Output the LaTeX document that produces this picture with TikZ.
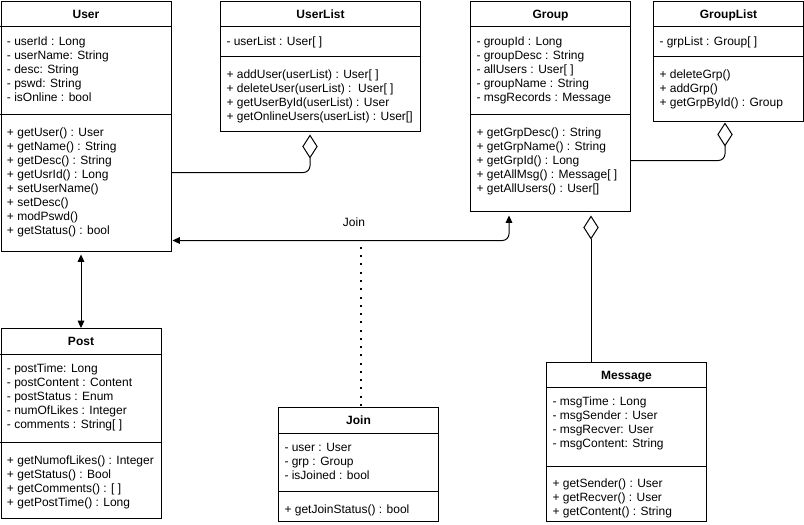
\documentclass[tikz,border=0pt]{standalone}
\usepackage{fontspec}
\setmainfont{Liberation Sans}
\usetikzlibrary{arrows.meta,calc}

\begin{document}
\begin{tikzpicture}[x=0.75pt, y=-0.75pt, line width=0.75pt,
    font=\fontsize{9}{10.5}\selectfont,
    classbox/.style={draw, anchor=north west, inner sep=0pt},
    classname/.style={anchor=base, font=\fontsize{9}{10.5}\selectfont\bfseries},
    members/.style={anchor=north west, align=left, inner sep=0pt},
    aggr/.style={-{Diamond[open, length=18pt, width=11.5pt]}},
    >={Triangle[length=5.5pt, width=5pt]}]
    \useasboundingbox (0,0) rectangle (804,525);

    % User
    \node[classbox, minimum width=127.5pt, minimum height=187.5pt] (user) at (0.5,0.5) {};
    \node[classname] (usertitle) at ($(user.north)+(0,17.5)$) {User};
    \draw ($(user.north west)+(0,26)$) -- ($(user.north east)+(0,26)$);
    \draw ($(user.north west)+(0,114)$) -- ($(user.north east)+(0,114)$);
    \node[members] (userattrs) at ($(user.north west)+(6,35.5)$) {- userId : Long\\- userName: String\\- desc: String\\- pswd: String\\- isOnline : bool};
    \node[members] (usermeths) at ($(user.north west)+(6,127.3)$) {+ getUser() : User\\+ getName() : String\\+ getDesc() : String\\+ getUsrId() : Long\\+ setUserName()\\+ setDesc()\\+ modPswd()\\+ getStatus() : bool};

    % UserList
    \node[classbox, minimum width=150pt, minimum height=97.5pt] (userlist) at (220,0.5) {};
    \node[classname] (userlisttitle) at ($(userlist.north)+(0,17.5)$) {UserList};
    \draw ($(userlist.north west)+(0,26)$) -- ($(userlist.north east)+(0,26)$);
    \draw ($(userlist.north west)+(0,56)$) -- ($(userlist.north east)+(0,56)$);
    \node[members] (userlistattrs) at ($(userlist.north west)+(6,35.5)$) {- userList : User[ ]};
    \node[members] (userlistmeths) at ($(userlist.north west)+(6,68.6)$) {+ addUser(userList) : User[ ]\\+ deleteUser(userList) :\ \ User[ ]\\+ getUserById(userList) : User\\+ getOnlineUsers(userList) : User[]};

    % Group
    \node[classbox, minimum width=120pt, minimum height=157.5pt] (group) at (470,0.5) {};
    \node[classname] (grouptitle) at ($(group.north)+(0,17.5)$) {Group};
    \draw ($(group.north west)+(0,26)$) -- ($(group.north east)+(0,26)$);
    \draw ($(group.north west)+(0,114)$) -- ($(group.north east)+(0,114)$);
    \node[members] (groupattrs) at ($(group.north west)+(6,35.5)$) {- groupId : Long\\- groupDesc : String\\- allUsers : User[ ]\\- groupName : String\\- msgRecords : Message};
    \node[members] (groupmeths) at ($(group.north west)+(6,127.3)$) {+ getGrpDesc() : String\\+ getGrpName() : String\\+ getGrpId() : Long\\+ getAllMsg() : Message[ ]\\+ getAllUsers() : User[]};

    % GroupList
    \node[classbox, minimum width=112.5pt, minimum height=90pt] (grouplist) at (653,0.5) {};
    \node[classname] (grouplisttitle) at ($(grouplist.north)+(0,17.5)$) {GroupList};
    \draw ($(grouplist.north west)+(0,26)$) -- ($(grouplist.north east)+(0,26)$);
    \draw ($(grouplist.north west)+(0,56)$) -- ($(grouplist.north east)+(0,56)$);
    \node[members] (grouplistattrs) at ($(grouplist.north west)+(6,35.5)$) {- grpList : Group[ ]};
    \node[members] (grouplistmeths) at ($(grouplist.north west)+(6,68.9)$) {+ deleteGrp()\\+ addGrp()\\+ getGrpById() : Group};

    % Post
    \node[classbox, minimum width=120pt, minimum height=142.5pt] (post) at (0.5,328) {};
    \node[classname] (posttitle) at ($(post.north)+(0,17.5)$) {Post};
    \draw ($(post.north west)+(0,26)$) -- ($(post.north east)+(0,26)$);
    \draw ($(post.north west)+(0,114)$) -- ($(post.north east)+(0,114)$);
    \node[members] (postattrs) at ($(post.north west)+(6,35.3)$) {- postTime: Long\\- postContent : Content\\- postStatus : Enum\\- numOfLikes : Integer\\- comments : String[ ]};
    \node[members] (postmeths) at ($(post.north west)+(6,127.6)$) {+ getNumofLikes() : Integer\\+ getStatus() : Bool\\+ getComments() : [ ]\\+ getPostTime() : Long};

    % Join
    \node[classbox, minimum width=120pt, minimum height=85.5pt] (join) at (278,407) {};
    \node[classname] (jointitle) at ($(join.north)+(0,17.5)$) {Join};
    \draw ($(join.north west)+(0,26)$) -- ($(join.north east)+(0,26)$);
    \draw ($(join.north west)+(0,84)$) -- ($(join.north east)+(0,84)$);
    \node[members] (joinattrs) at ($(join.north west)+(6,35.3)$) {- user : User\\- grp : Group\\- isJoined : bool};
    \node[members] (joinmeths) at ($(join.north west)+(6,96.9)$) {+ getJoinStatus() : bool};

    % Message
    \node[classbox, minimum width=120pt, minimum height=119.25pt] (message) at (546,362) {};
    \node[classname] (messagetitle) at ($(message.north)+(0,17.5)$) {Message};
    \draw ($(message.north west)+(0,25)$) -- ($(message.north east)+(0,25)$);
    \draw ($(message.north west)+(0,104)$) -- ($(message.north east)+(0,104)$);
    \node[members] (messageattrs) at ($(message.north west)+(6,34.3)$) {- msgTime : Long\\- msgSender : User\\- msgRecver: User\\- msgContent: String};
    \node[members] (messagemeths) at ($(message.north west)+(6,116.3)$) {+ getSender() : User\\+ getRecver() : User\\+ getContent() : String};

    % links
    \draw[aggr, rounded corners=5pt] ($(user.north east)+(0,172)$) -| ($(userlist.south west)+(90,3)$);
    \draw[aggr, rounded corners=5pt] ($(group.north east)+(0,160)$) -| ($(grouplist.south west)+(72,1)$);
    \draw[aggr] ($(message.north west)+(45,0)$) -- ($(group.south west)+(121,4)$);
    \draw[<->, rounded corners=5pt] ($(group.south west)+(39,4)$) |- ($(user.north east)+(1,240)$);
    \node (joinname) at (354,222) {Join};
    \coordinate (joinend) at ($(join.north)+(2,-163)$);
    \draw[line width=1.5pt, dash pattern=on 1.5pt off 4.7pt] ($(join.north)+(2,-1)$) -- (joinend);
    \draw[<->] ($(user.south -| post.north)+(0,3)$) -- (post.north);
\end{tikzpicture}
\end{document}
